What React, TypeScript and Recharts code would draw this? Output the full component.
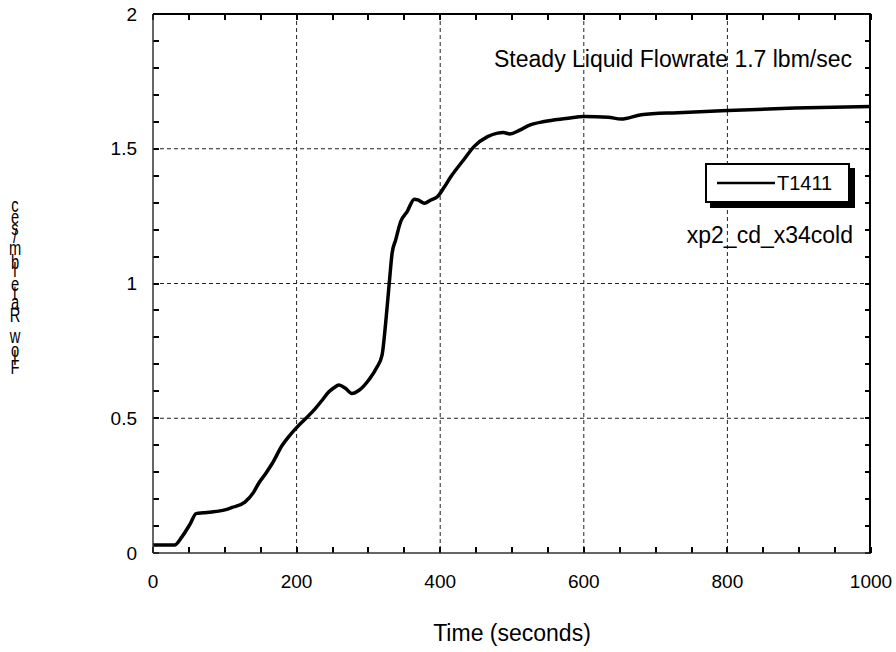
import React from "react";
import {
  LineChart,
  Line,
  XAxis,
  YAxis,
  CartesianGrid,
  Legend,
} from "recharts";

const times = [
  0, 30, 40, 52, 60, 70, 82, 100, 110, 128, 140, 147, 157, 166, 180, 190, 201,
  215, 226, 235, 245, 252, 259, 268, 277, 287, 301, 312, 319, 324, 329, 333,
  338, 345, 354, 364, 369, 378, 387, 396, 405, 415, 433, 447, 466, 480, 488,
  497, 510, 522, 545, 575, 601, 634, 652, 680, 731, 801, 894, 1000,
];
const flow = [
  0.03, 0.03, 0.059, 0.109, 0.146, 0.149, 0.152, 0.16, 0.169, 0.189, 0.225,
  0.258, 0.295, 0.332, 0.4, 0.435, 0.468, 0.505, 0.536, 0.565, 0.598, 0.613,
  0.623, 0.611, 0.592, 0.604, 0.644, 0.69, 0.734, 0.852, 1.0, 1.112, 1.162,
  1.23, 1.267, 1.313, 1.31, 1.298, 1.31, 1.322, 1.355, 1.397, 1.46, 1.508,
  1.545, 1.558, 1.56, 1.555, 1.568, 1.585, 1.601, 1.612, 1.62, 1.617, 1.61,
  1.626, 1.634, 1.642, 1.651, 1.657,
];

const xMajor = [0, 200, 400, 600, 800, 1000];
const yMajor = [0, 0.5, 1, 1.5, 2];
const xMinor = [
  50, 100, 150, 250, 300, 350, 450, 500, 550, 650, 700, 750, 850, 900, 950,
];
const yMinor = [
  0.1, 0.2, 0.3, 0.4, 0.6, 0.7, 0.8, 0.9, 1.1, 1.2, 1.3, 1.4, 1.6, 1.7, 1.8,
  1.9,
];
const xGrid = [200, 400, 600, 800];
const yGrid = [0.5, 1, 1.5];
const xDomain = [0, 1000];
const yDomain = [0, 2];

const seriesName = "T1411";
const titleText = "Steady Liquid Flowrate 1.7 lbm/sec";
const caseText = "xp2_cd_x34cold";
const xTitle = "Time (seconds)";
const yTitle = "Flow Rate lbm/sec";

const data = times.map((t, i) => ({ t, v: flow[i] }));

const FONT = "'Liberation Sans', Arial, sans-serif";
const AXIS = "#000000";

// frame geometry
const W = 896;
const H = 652;
const M = { top: 14, right: 25, left: 93, bottom: 69 };
const Y_AXIS_W = 60;
const X_AXIS_H = 30;
const LEFT = M.left + Y_AXIS_W;
const RIGHT = W - M.right;
const TOP = M.top;
const BOTTOM = H - M.bottom - X_AXIS_H;
const TICK = 6;

const px = (v: number) =>
  LEFT + ((v - xDomain[0]) / (xDomain[1] - xDomain[0])) * (RIGHT - LEFT);
const py = (v: number) =>
  BOTTOM - ((v - yDomain[0]) / (yDomain[1] - yDomain[0])) * (BOTTOM - TOP);

// approx Arial advance widths, used to stack the y title glyphs
const adv: Record<string, number> = {
  F: 0.611, l: 0.222, o: 0.556, w: 0.722, " ": 0.278, R: 0.722, a: 0.556,
  t: 0.278, e: 0.556, b: 0.556, m: 0.833, "/": 0.278, s: 0.5, c: 0.5,
};

// inward ticks on all four sides, as one path
function tickPath() {
  let d = "";
  xMinor.concat(xMajor).forEach((v) => {
    const x = Math.round(px(v));
    d += `M${x} ${BOTTOM} L${x} ${BOTTOM - TICK} M${x} ${TOP} L${x} ${TOP + TICK} `;
  });
  yMinor.concat(yMajor).forEach((v) => {
    const y = Math.round(py(v));
    d += `M${LEFT} ${y} L${LEFT + TICK} ${y} M${RIGHT} ${y} L${RIGHT - TICK} ${y} `;
  });
  return d;
}

function Annotations() {
  const size = 21;
  let pos = 373;
  const glyphs = yTitle.split("").map((ch, i) => {
    const w = (adv[ch] ?? 0.5) * size;
    const cy = pos - w / 2;
    pos -= w;
    if (ch === " ") return null;
    return (
      <text
        key={i}
        transform={`translate(15,${cy}) scale(0.7,1)`}
        textAnchor="middle"
        dominantBaseline="central"
        fontSize={size}
        fontFamily={FONT}
        fill="#000"
      >
        {ch}
      </text>
    );
  });
  return (
    <g>
      <path d={tickPath()} fill="none" stroke="#000" strokeWidth={2} />
      {glyphs}
      <text x={852} y={67} textAnchor="end" fontSize={23} fontFamily={FONT} fill="#000">
        {titleText}
      </text>
      <text x={853} y={243} textAnchor="end" fontSize={23} fontFamily={FONT} fill="#000">
        {caseText}
      </text>
    </g>
  );
}

function LegendBox({ payload }: any) {
  const item = payload && payload[0];
  return (
    <div
      style={{
        width: 141,
        height: 36,
        border: "2px solid #000",
        background: "#fff",
        boxShadow: "5px 5px 0 #000",
        display: "flex",
        alignItems: "center",
        fontFamily: FONT,
        fontSize: 20,
      }}
    >
      <svg width={60} height={10} style={{ marginLeft: 10 }}>
        <line x1={0} y1={5} x2={58} y2={5} stroke="#000" strokeWidth={2.5} />
      </svg>
      <span>{item ? item.value : seriesName}</span>
    </div>
  );
}

export default function App() {
  return (
    <div style={{ position: "absolute", left: 0, top: 0, width: W, height: H }}>
      <LineChart width={W} height={H} data={data} margin={M}>
        <CartesianGrid
          stroke="#222"
          strokeDasharray="4 3"
          horizontalValues={yGrid}
          verticalValues={xGrid}
        />
        <XAxis
          dataKey="t"
          type="number"
          domain={xDomain}
          ticks={xMajor}
          interval={0}
          tickLine={false}
          tickSize={0}
          tickMargin={22}
          axisLine={{ stroke: "#333", strokeWidth: 1.5 }}
          tick={{ fill: "#000", fontSize: 19, fontFamily: FONT }}
          height={X_AXIS_H}
          label={{
            value: xTitle,
            position: "bottom",
            offset: 42,
            fill: "#000",
            fontSize: 23,
            fontFamily: FONT,
          }}
        />
        <YAxis
          type="number"
          domain={yDomain}
          ticks={yMajor}
          interval={0}
          tickLine={false}
          tickSize={0}
          tickMargin={16}
          width={Y_AXIS_W}
          axisLine={{ stroke: "#333", strokeWidth: 1.5 }}
          tick={{ fill: "#000", fontSize: 19, fontFamily: FONT }}
        />
        <Legend
          layout="horizontal"
          align="center"
          verticalAlign="middle"
          wrapperStyle={{ left: 705, top: 163, width: 146 }}
          content={<LegendBox />}
        />
        <Line
          name={seriesName}
          dataKey="v"
          type="monotone"
          stroke="#000"
          strokeWidth={3.5}
          dot={false}
          isAnimationActive={false}
        />
        <Annotations />
      </LineChart>
      {/* top and right edges of the plot frame */}
      <div
        style={{
          position: "absolute",
          left: LEFT,
          top: TOP - 1,
          width: RIGHT - LEFT,
          height: BOTTOM - TOP + 1,
          borderTop: `2px solid ${AXIS}`,
          borderRight: `2px solid ${AXIS}`,
          boxSizing: "border-box",
          pointerEvents: "none",
          marginRight: -1,
        }}
      />
    </div>
  );
}
